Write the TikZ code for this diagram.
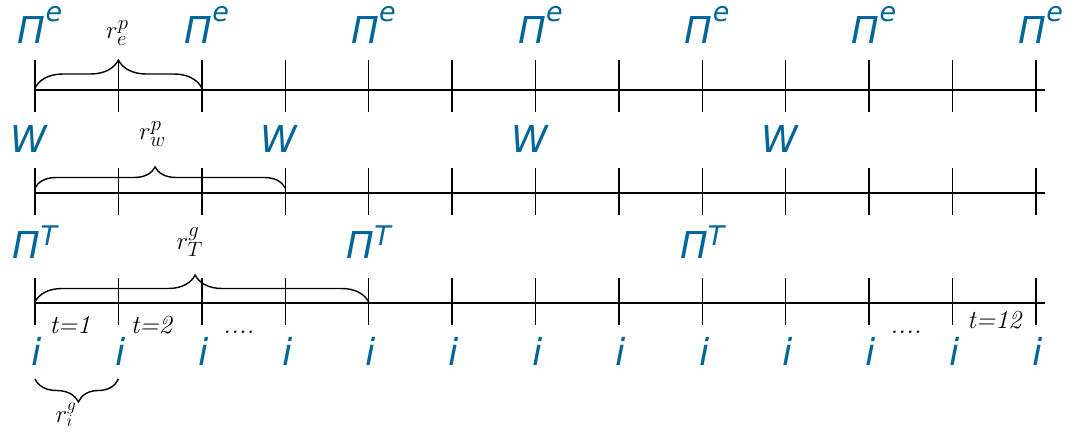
\documentclass[tikz,border=0pt]{standalone}
\usepackage{fontspec}
\newfontfamily\lblfont{DejaVu Sans}
\usetikzlibrary{decorations.pathreplacing, positioning, calc}
\definecolor{pblue}{RGB}{0,102,153}
\tikzset{
    axis/.style={line width=1.6pt, black},
    tck/.style={line width=1.4pt, black},
    lbl/.style={font=\lblfont\itshape\fontsize{37}{37}\selectfont, text=pblue, inner sep=0pt, anchor=base},
    rlab/.style={font=\fontsize{29}{29}\selectfont, inner sep=0pt},
    tlab/.style={font=\itshape\fontsize{26}{26}\selectfont, inner sep=0pt, anchor=base},
    brc/.style={decorate, decoration={brace, amplitude=#1}, line width=1.4pt},
}
\newcommand{\lblup}[2]{\raisebox{#1}{\fontsize{27}{27}\selectfont #2}}

\begin{document}
\begin{tikzpicture}[x=1pt, y=-1pt]
    \useasboundingbox (0,0) rectangle (1071,432);
    % tick positions on the three time lines
    \foreach \k in {0,...,12} {
        \coordinate (e\k) at ({35+83.4*\k},90);
        \coordinate (w\k) at ({35+83.4*\k},193);
        \coordinate (g\k) at ({35+83.4*\k},303);
    }
    \coordinate (eend) at (1045,90);
    \coordinate (wend) at (1045,193);
    \coordinate (gend) at (1045,303);
    \draw[axis] (e0) -- (eend);
    \draw[axis] (w0) -- (wend);
    \draw[axis] (g0) -- (gend);
    \foreach \k in {0,...,12} {
        \draw[tck] ([yshift=30pt]e\k) -- ([yshift=-22pt]e\k);
        \draw[tck] ([yshift=25pt]w\k) -- ([yshift=-22pt]w\k);
        \draw[tck] ([yshift=25pt]g\k) -- ([yshift=-22pt]g\k);
        \node[lbl] (i\k) at ([xshift=2pt, yshift=-62pt]g\k) {i};
    }
    % labels above the lines
    \foreach \k in {0,2,...,12}
        \node[lbl] (pe\k) at ([xshift=5pt, yshift=47pt]e\k) {Π\lblup{22pt}{e}};
    \foreach \k in {0,3,6,9}
        \node[lbl] (ww\k) at ([xshift=-6pt, yshift=41pt]w\k) {W};
    \foreach \k in {0,4,8}
        \node[lbl] (pt\k) at ([yshift=45pt]g\k) {Π\lblup{13pt}{T}};
    % braces
    \draw[brc=28pt] ([yshift=2pt]e0) -- ([yshift=2pt]e2);
    \node[rlab] (re) at ([xshift=-1pt, yshift=57pt]e1) {$r_e^p$};
    \draw[brc=21pt, decoration={aspect=0.48}] ([yshift=5pt]w0) -- ([yshift=5pt]w3);
    \node[rlab] (rw) at ([xshift=34pt, yshift=59pt]w1) {$r_w^p$};
    \draw[brc=27pt, decoration={aspect=0.48}] ([yshift=1pt]g0) -- ([yshift=1pt]g4);
    \node[rlab] (rt) at ([xshift=-12pt, yshift=61pt]g2) {$r_T^g$};
    \draw[brc=23pt, decoration={aspect=0.48}] ([yshift=-76pt]g1) -- ([yshift=-76pt]g0);
    \node[rlab, font=\fontsize{26}{26}\selectfont] (ri) at ([xshift=31pt, yshift=-112pt]g0) {$r_i^g$};
    % period labels
    \node[tlab] (t1) at ([xshift=35pt, yshift=-30pt]g0) {t=1};
    \node[tlab] (t2) at ([xshift=33pt, yshift=-30pt]g1) {t=2};
    \node[tlab] (d1) at ([xshift=37pt, yshift=-30pt]g2) {....};
    \node[tlab] (d2) at ([xshift=37pt, yshift=-30pt]g10) {....};
    \node[tlab] (t12) at ([xshift=42pt, yshift=-25pt]g11) {t=12};
\end{tikzpicture}
\end{document}
